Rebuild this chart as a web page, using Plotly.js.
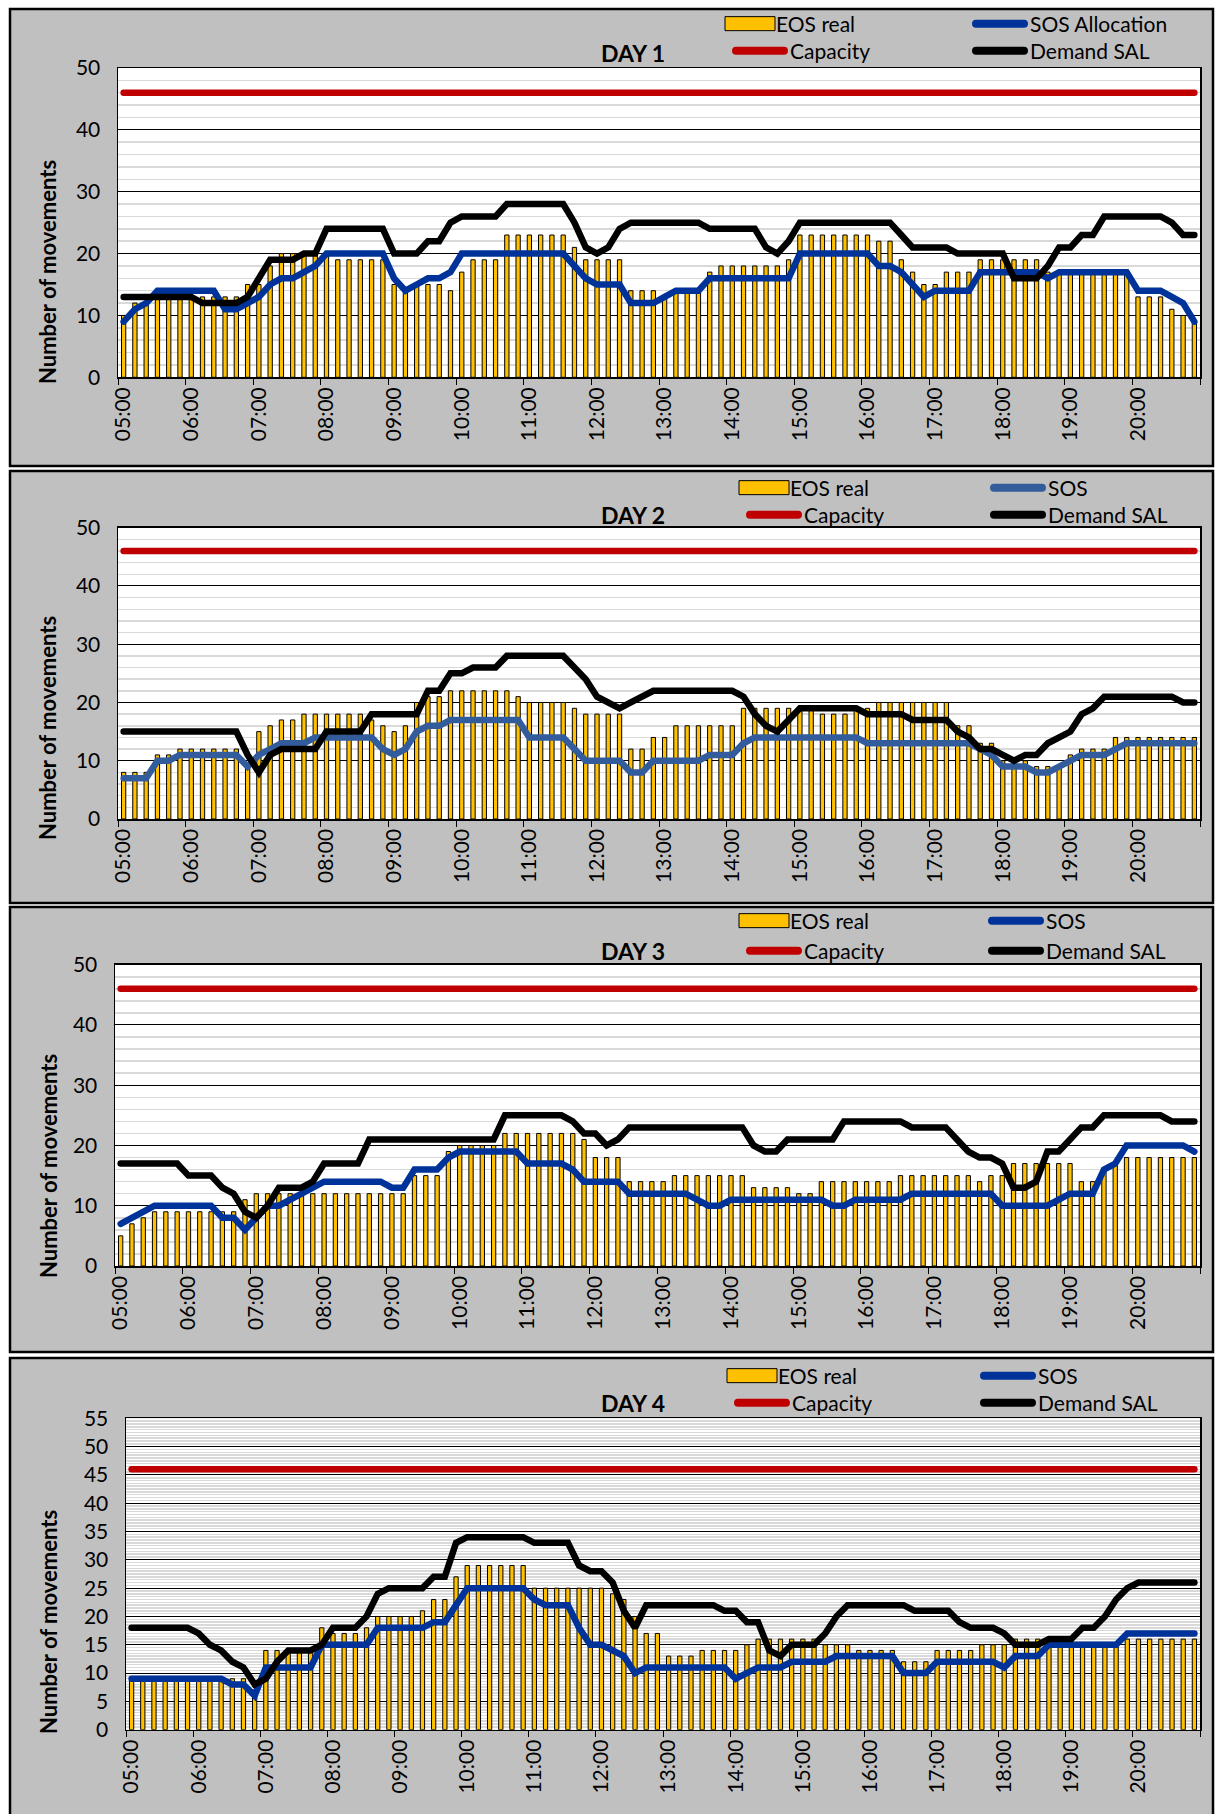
<!DOCTYPE html>
<html>
<head>
<meta charset="utf-8">
<script src="https://cdn.plot.ly/plotly-3.0.1.min.js"></script>
<style>
html,body{margin:0;padding:0;background:#ffffff;}
#chart{width:1215px;height:1814px;}
</style>
</head>
<body>
<div id="chart"></div>
<script>
// ---------- categories (10-minute slots) ----------
const times = [
 "05:00","05:10","05:20","05:30","05:40","05:50",
 "06:00","06:10","06:20","06:30","06:40","06:50",
 "07:00","07:10","07:20","07:30","07:40","07:50",
 "08:00","08:10","08:20","08:30","08:40","08:50",
 "09:00","09:10","09:20","09:30","09:40","09:50",
 "10:00","10:10","10:20","10:30","10:40","10:50",
 "11:00","11:10","11:20","11:30","11:40","11:50",
 "12:00","12:10","12:20","12:30","12:40","12:50",
 "13:00","13:10","13:20","13:30","13:40","13:50",
 "14:00","14:10","14:20","14:30","14:40","14:50",
 "15:00","15:10","15:20","15:30","15:40","15:50",
 "16:00","16:10","16:20","16:30","16:40","16:50",
 "17:00","17:10","17:20","17:30","17:40","17:50",
 "18:00","18:10","18:20","18:30","18:40","18:50",
 "19:00","19:10","19:20","19:30","19:40","19:50",
 "20:00","20:10","20:20","20:30","20:40","20:50"
];
const dayTitles = ["DAY 1","DAY 2","DAY 3","DAY 4"];
const sosNames = ["SOS Allocation","SOS","SOS","SOS"];
const capacity = [46, 46, 46, 46];

// ---------- DAY 1 ----------
const eosReal1 = [10,12,12,13,13,13,13,13,13,13,13,15,15,18,20,20,20,20,20,19,19,19,19,19,15,14,15,15,15,14,17,19,19,19,23,23,23,23,23,23,21,19,19,19,19,14,14,14,
                  13,14,14,14,17,18,18,18,18,18,18,19,23,23,23,23,23,23,23,22,22,19,17,15,15,17,17,17,19,19,19,19,19,19,17,17,17,17,17,17,17,17,13,13,13,11,10,9];
const sos1 = [9,11,12,14,14,14,14,14,14,11,11,12,13,15,16,16,17,18,20,20,20,20,20,20,16,14,15,16,16,17,20,20,20,20,20,20,20,20,20,20,18,16,15,15,15,12,12,12,
              13,14,14,14,16,16,16,16,16,16,16,16,20,20,20,20,20,20,20,18,18,17,15,13,14,14,14,14,17,17,17,17,17,17,16,17,17,17,17,17,17,17,14,14,14,13,12,9];
const demand1 = [13,13,13,13,13,13,13,12,12,12,12,13,16,19,19,19,20,20,24,24,24,24,24,24,20,20,20,22,22,25,26,26,26,26,28,28,28,28,28,28,25,21,20,21,24,25,25,25,
                 25,25,25,25,24,24,24,24,24,21,20,22,25,25,25,25,25,25,25,25,25,23,21,21,21,21,20,20,20,20,20,16,16,16,18,21,21,23,23,26,26,26,26,26,26,25,23,23];

// ---------- DAY 2 ----------
const eosReal2 = [8,8,8,11,11,12,12,12,12,12,12,9,15,16,17,17,18,18,18,18,18,18,17,16,15,16,20,21,21,22,22,22,22,22,22,21,20,20,20,20,19,18,18,18,18,12,12,14,
                  14,16,16,16,16,16,16,19,19,19,19,19,19,19,18,18,18,19,19,20,20,20,20,20,20,20,16,16,13,13,10,10,10,9,9,9,11,12,12,12,14,14,14,14,14,14,14,14];
const sos2 = [7,7,7,10,10,11,11,11,11,11,11,9,11,12,13,13,13,14,14,14,14,14,14,12,11,12,15,16,16,17,17,17,17,17,17,17,14,14,14,14,12,10,10,10,10,8,8,10,
              10,10,10,10,11,11,11,13,14,14,14,14,14,14,14,14,14,14,13,13,13,13,13,13,13,13,13,13,12,11,9,9,9,8,8,9,10,11,11,11,12,13,13,13,13,13,13,13];
const demand2 = [15,15,15,15,15,15,15,15,15,15,15,11,8,11,12,12,12,12,15,15,15,15,18,18,18,18,18,22,22,25,25,26,26,26,28,28,28,28,28,28,26,24,21,20,19,20,21,22,
                 22,22,22,22,22,22,22,21,18,16,15,17,19,19,19,19,19,19,18,18,18,18,17,17,17,17,15,14,12,12,11,10,11,11,13,14,15,18,19,21,21,21,21,21,21,21,20,20];

// ---------- DAY 3 ----------
const eosReal3 = [5,7,8,9,9,9,9,9,9,9,9,11,12,12,12,12,12,12,12,12,12,12,12,12,12,12,15,15,15,19,20,20,20,20,22,22,22,22,22,22,22,21,18,18,18,14,14,14,
                  14,15,15,15,15,15,15,15,13,13,13,13,12,12,14,14,14,14,14,14,14,15,15,15,15,15,15,15,14,15,15,17,17,17,17,17,17,14,14,16,17,18,18,18,18,18,18,18];
const sos3 = [7,8,9,10,10,10,10,10,10,8,8,6,8,10,10,11,12,13,14,14,14,14,14,14,13,13,16,16,16,18,19,19,19,19,19,19,17,17,17,17,16,14,14,14,14,12,12,12,
              12,12,12,11,10,10,11,11,11,11,11,11,11,11,11,10,10,11,11,11,11,11,12,12,12,12,12,12,12,12,10,10,10,10,10,11,12,12,12,16,17,20,20,20,20,20,20,19];
const demand3 = [17,17,17,17,17,17,15,15,15,13,12,9,8,10,13,13,13,14,17,17,17,17,21,21,21,21,21,21,21,21,21,21,21,21,25,25,25,25,25,25,24,22,22,20,21,23,23,23,
                 23,23,23,23,23,23,23,23,20,19,19,21,21,21,21,21,24,24,24,24,24,24,23,23,23,23,21,19,18,18,17,13,13,14,19,19,21,23,23,25,25,25,25,25,25,24,24,24];

// ---------- DAY 4 ----------
const eosReal4 = [9,9,9,9,9,9,9,9,9,9,9,7,14,14,14,14,14,18,17,17,17,18,20,20,20,20,21,23,23,27,29,29,29,29,29,29,25,25,25,25,25,25,25,24,23,20,17,17,
                  13,13,13,14,14,14,14,15,16,16,16,16,16,16,15,15,15,14,14,14,14,12,12,12,14,14,14,14,15,15,15,16,16,16,15,15,15,15,15,15,15,16,16,16,16,16,16,16];
const sos4 = [9,9,9,9,9,9,9,9,9,8,8,6,11,11,11,11,11,15,15,15,15,15,18,18,18,18,18,19,19,22,25,25,25,25,25,25,23,22,22,22,18,15,15,14,13,10,11,11,
              11,11,11,11,11,11,9,10,11,11,11,12,12,12,12,13,13,13,13,13,13,10,10,10,12,12,12,12,12,12,11,13,13,13,15,15,15,15,15,15,15,17,17,17,17,17,17,17];
const demand4 = [18,18,18,18,18,18,17,15,14,12,11,8,9,12,14,14,14,15,18,18,18,20,24,25,25,25,25,27,27,33,34,34,34,34,34,34,33,33,33,33,29,28,28,26,21,18,22,22,
                 22,22,22,22,22,21,21,19,19,14,13,15,15,15,17,20,22,22,22,22,22,22,21,21,21,21,19,18,18,18,17,15,15,15,16,16,16,18,18,20,23,25,26,26,26,26,26,26];

const eosSeries = [eosReal1, eosReal2, eosReal3, eosReal4];
const sosSeries = [sos1, sos2, sos3, sos4];
const demandSeries = [demand1, demand2, demand3, demand4];

// ---------- layout geometry (pixels) ----------
const W = 1215, H = 1814;
const FONT = "Lato, 'Open Sans', sans-serif";
const fx = v => v / W;
const fy = v => 1 - v / H;

const panels = [
  {box:[10,9,1213,466],    plot:[118,68,1200,377.3],     ymax:50, major:10, minor:2,   sosColor:"#003399",
   legX:[790,1030], legY:[24,51],     title:[633,53],   yTitle:[48,272]},
  {box:[10,471,1213,903],  plot:[118,527.7,1200,819],    ymax:50, major:10, minor:2,   sosColor:"#335C9C",
   legX:[804,1048], legY:[488,515],   title:[633,515],  yTitle:[48,728]},
  {box:[10,907,1213,1352], plot:[115,964.7,1200,1266],   ymax:50, major:10, minor:2,   sosColor:"#003399",
   legX:[804,1046], legY:[921,951],   title:[633,951],  yTitle:[48,1166]},
  {box:[10,1358,1213,1818],plot:[126,1418.3,1200,1729.7],ymax:55, major:5,  minor:0.5, sosColor:"#003399",
   legX:[792,1038], legY:[1376,1403], title:[633,1403], yTitle:[48,1622]}
];

const data = [];
const layout = {
  width: W, height: H,
  margin: {l:0, r:0, t:0, b:0},
  paper_bgcolor: "#ffffff",
  plot_bgcolor: "rgba(0,0,0,0)",
  showlegend: true,
  hovermode: false,
  font: {family: FONT, color: "#000"},
  shapes: [],
  annotations: []
};

const legendId = k => (k === 1 ? "legend" : "legend" + k);
const ITEM_W = 50;
const TEXT_OFFSET = ITEM_W + 10;
const BAR_LEGEND_FIX = 14;   // bar legend entries render slightly further right

panels.forEach((p, i) => {
  const n = i + 1;
  const xa = n === 1 ? "x" : "x" + n;
  const ya = n === 1 ? "y" : "y" + n;
  const xKey = n === 1 ? "xaxis" : "xaxis" + n;
  const yKey = n === 1 ? "yaxis" : "yaxis" + n;

  // gray panel background
  layout.shapes.push({type:"rect", xref:"paper", yref:"paper",
    x0:fx(p.box[0]), x1:fx(p.box[2]), y0:fy(p.box[3]), y1:fy(p.box[1]),
    fillcolor:"#C0C0C0", line:{color:"#000", width:2.5}, layer:"below"});
  // white plot area
  layout.shapes.push({type:"rect", xref:xa + " domain", yref:ya + " domain",
    x0:0, x1:1, y0:0, y1:1, fillcolor:"#ffffff", line:{width:0}, layer:"below"});

  layout[xKey] = {
    domain:[fx(p.plot[0]), fx(p.plot[2])], anchor:ya,
    type:"category", range:[-0.5, times.length - 0.5],
    tickmode:"linear", tick0:0, dtick:6, tickson:"boundaries",
    ticks:"outside", ticklen:6, tickwidth:1, tickcolor:"#000",
    tickangle:-90, tickfont:{family:FONT, size:21, color:"#000"},
    showgrid:false, zeroline:false, showline:true, mirror:true,
    linecolor:"#000", linewidth:1.5, fixedrange:true
  };
  layout[yKey] = {
    domain:[fy(p.plot[3]), fy(p.plot[1])], anchor:xa,
    range:[0, p.ymax], tickmode:"linear", tick0:0, dtick:p.major,
    showgrid:true, gridcolor:"#000", gridwidth:1,
    minor:{tick0:0, dtick:p.minor, showgrid:true, gridcolor:"#D9D9D9", gridwidth:1.5, ticks:""},
    ticks:"", tickfont:{family:FONT, size:21, color:"#000"}, ticklabelstandoff:12,
    zeroline:false, showline:true, mirror:true, linecolor:"#000", linewidth:1.5, fixedrange:true
  };

  const base = 4 * i;
  data.push({type:"bar", x:times, y:eosSeries[i], xaxis:xa, yaxis:ya, name:"EOS real",
    width:0.38, marker:{color:"#FFC000", line:{color:"#000", width:1}}, legend:legendId(base + 1)});
  data.push({type:"scatter", mode:"lines", x:times, y:sosSeries[i], xaxis:xa, yaxis:ya, name:sosNames[i],
    line:{color:p.sosColor, width:6.5}, legend:legendId(base + 2)});
  data.push({type:"scatter", mode:"lines", x:times, y:times.map(() => capacity[i]), xaxis:xa, yaxis:ya, name:"Capacity",
    line:{color:"#C00000", width:6.5}, legend:legendId(base + 3)});
  data.push({type:"scatter", mode:"lines", x:times, y:demandSeries[i], xaxis:xa, yaxis:ya, name:"Demand SAL",
    line:{color:"#000000", width:6.5}, legend:legendId(base + 4)});

  const legPos = [[p.legX[0] - BAR_LEGEND_FIX, p.legY[0]], [p.legX[1], p.legY[0]], [p.legX[0], p.legY[1]], [p.legX[1], p.legY[1]]];
  legPos.forEach((lp, k) => {
    layout[legendId(base + k + 1)] = {
      x:fx(lp[0] - TEXT_OFFSET), y:fy(lp[1]), xanchor:"left", yanchor:"middle",
      bgcolor:"rgba(0,0,0,0)", borderwidth:0, orientation:"v", itemwidth:ITEM_W,
      font:{family:FONT, size:21, color:"#000"}
    };
  });

  layout.annotations.push({xref:"paper", yref:"paper", x:fx(p.title[0]), y:fy(p.title[1]),
    xanchor:"center", yanchor:"middle", showarrow:false, text:"<b>" + dayTitles[i] + "</b>",
    font:{family:FONT, size:23, color:"#000"}});
  layout.annotations.push({xref:"paper", yref:"paper", x:fx(p.yTitle[0]), y:fy(p.yTitle[1]),
    xanchor:"center", yanchor:"middle", showarrow:false, textangle:-90, text:"<b>Number of movements</b>",
    font:{family:FONT, size:22, color:"#000"}});
});

function cosmetics() {
  const gd = document.getElementById("chart");
  // rounded line ends, as in the original
  gd.querySelectorAll("path.js-line").forEach(el => { el.style.strokeLinecap = "round"; });
  gd.querySelectorAll(".legendlines path").forEach(el => {
    el.setAttribute("d", "M6,0h48");
    el.style.strokeLinecap = "round";
    el.style.strokeWidth = "8px";
  });
  // wide rectangular swatch for the bar series, ending just before its text
  gd.querySelectorAll(".legendpoints path").forEach(el => {
    const d = el.getAttribute("d") || "";
    if (d.indexOf("M6,6H-6V-6H6Z") === 0 || el.classList.contains("legendbar") || el.dataset.wide) {
      el.setAttribute("d", "M29,7H-21V-7H29Z");
      el.dataset.wide = "1";
    }
  });
}

Plotly.newPlot("chart", data, layout, {staticPlot:true, displayModeBar:false}).then(() => {
  cosmetics();
  setTimeout(cosmetics, 50);
});
</script>
</body>
</html>
